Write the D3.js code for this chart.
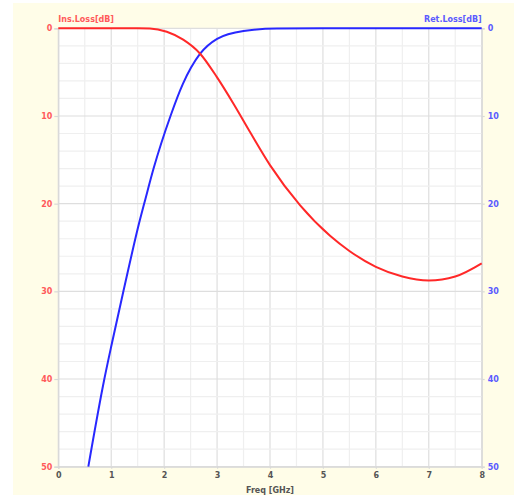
<!DOCTYPE html>
<html>
<head>
<meta charset="utf-8">
<script src="https://cdn.jsdelivr.net/npm/d3@7"></script>
<style>
  body { margin: 0; background: #fff; }
  text { font-family: "DejaVu Sans", Verdana, sans-serif; font-weight: bold; font-size: 8px; }
</style>
</head>
<body>
<div id="viz"></div>
<script>
const width = 514, height = 495;
const margin = {top: 28.3, right: 32.3, bottom: 28.3, left: 58.3};

// Ins.Loss [dB] (red, left axis)
const insFreq = [0, 0.5, 1, 1.5, 1.73, 2.05, 2.36, 2.68, 3.0, 3.31, 3.62, 4.0, 4.57, 5.14, 5.5, 6.0, 6.5, 7.0, 7.5, 8.0];
const insLoss = [0, 0, 0, 0, 0.02, 0.4, 1.3, 2.9, 5.6, 8.6, 11.8, 15.6, 20.2, 23.7, 25.4, 27.2, 28.3, 28.75, 28.3, 26.8];

// Ret.Loss [dB] (blue, right axis)
const retFreq = [0.567, 0.87, 1.01, 1.23, 1.54, 1.64, 1.8, 2.12, 2.35, 2.68, 3.0, 3.5, 4.13, 5, 6, 7, 8];
const retLoss = [50, 40, 36, 30, 21.9, 19.6, 16, 10, 6.4, 2.9, 1.2, 0.3, 0.02, 0, 0, 0, 0];

const freqTicks = [0, 1, 2, 3, 4, 5, 6, 7, 8];
const dbTicks = [0, 10, 20, 30, 40, 50];

const svg = d3.select("#viz").append("svg").attr("width", width).attr("height", height);

// cream background
svg.append("rect").attr("x", 13).attr("y", 3).attr("width", width - 13).attr("height", height - 3)
  .attr("fill", "#fffde8");

const x = d3.scaleLinear().domain([0, 8]).range([margin.left, width - margin.right]);
const y = d3.scaleLinear().domain([0, 50]).range([margin.top, height - margin.bottom]);

svg.append("rect").attr("x", x(0)).attr("y", y(0)).attr("width", x(8) - x(0)).attr("height", y(50) - y(0))
  .attr("fill", "#fff");

// grid
const minorX = d3.range(0, 8.01, 0.5), minorY = d3.range(0, 50.01, 2);
svg.append("g").selectAll("line").data(minorX).enter().append("line")
  .attr("x1", d => x(d)).attr("x2", d => x(d)).attr("y1", y(0)).attr("y2", y(50))
  .attr("stroke", d => d % 1 === 0 ? "#dedede" : "#efefef").attr("stroke-width", 1.2);
svg.append("g").selectAll("line").data(minorY).enter().append("line")
  .attr("x1", x(0)).attr("x2", x(8)).attr("y1", d => y(d)).attr("y2", d => y(d))
  .attr("stroke", d => d % 10 === 0 ? "#dedede" : "#efefef").attr("stroke-width", 1.2);

// axes
const leftAxis = svg.append("g").attr("transform", `translate(${x(0)},0)`)
  .call(d3.axisLeft(y).tickValues(dbTicks).tickSize(4).tickPadding(2));
leftAxis.selectAll("text").attr("fill", "#ff5a5a");
const rightAxis = svg.append("g").attr("transform", `translate(${x(8)},0)`)
  .call(d3.axisRight(y).tickValues(dbTicks).tickSize(3).tickPadding(3));
rightAxis.selectAll("text").attr("fill", "#5a5aff");
const bottomAxis = svg.append("g").attr("transform", `translate(0,${y(50)})`)
  .call(d3.axisBottom(x).tickValues(freqTicks).tickSize(2).tickPadding(4));
bottomAxis.selectAll("text").attr("fill", "#555");
[leftAxis, rightAxis, bottomAxis].forEach(g => {
  g.selectAll("text").style("font-size", "8px").style("font-family", "DejaVu Sans, Verdana, sans-serif");
  g.select(".domain").attr("stroke", "#d8d8d8").attr("stroke-width", 1.2);
  g.selectAll(".tick line").attr("stroke", "#d8d8d8").attr("stroke-width", 1.2);
});

// curves
const ins = insFreq.map((f, i) => [f, insLoss[i]]);
const ret = retFreq.map((f, i) => [f, retLoss[i]]);
const line = d3.line().x(d => x(d[0])).y(d => y(d[1])).curve(d3.curveMonotoneX);
svg.append("path").datum(ret).attr("d", line).attr("fill", "none").attr("stroke", "#2828ff").attr("stroke-width", 2);
svg.append("path").datum(ins).attr("d", line).attr("fill", "none").attr("stroke", "#ff2828").attr("stroke-width", 2);

// titles
svg.append("text").attr("x", x(0)).attr("y", 22).attr("fill", "#ff5a5a").text("Ins.Loss[dB]");
svg.append("text").attr("x", x(8)).attr("y", 22).attr("text-anchor", "end").attr("fill", "#5a5aff").text("Ret.Loss[dB]");
svg.append("text").attr("x", (x(0) + x(8)) / 2).attr("y", 493).attr("text-anchor", "middle").attr("fill", "#555").text("Freq [GHz]");
</script>
</body>
</html>
